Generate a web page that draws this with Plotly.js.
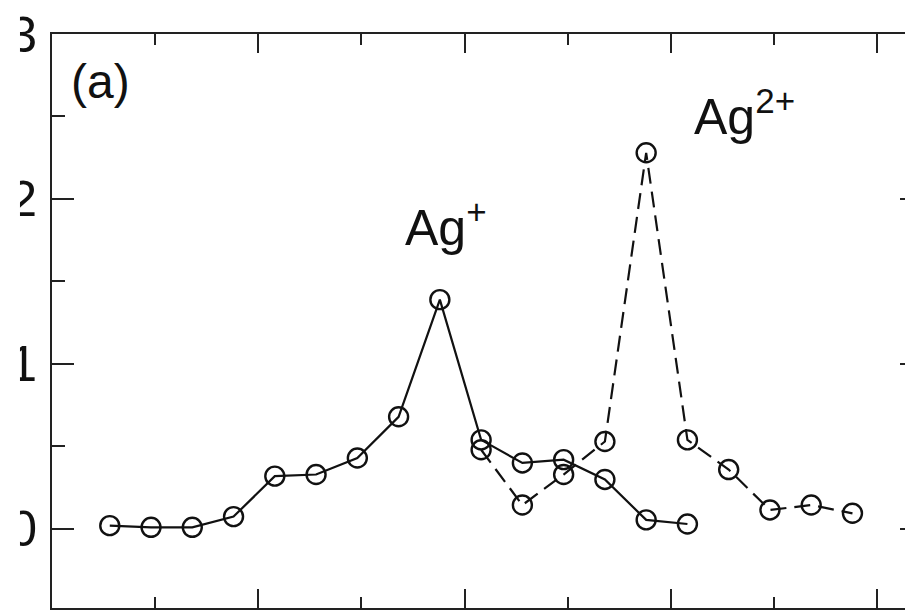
<!DOCTYPE html>
<html>
<head>
<meta charset="utf-8">
<script src="https://cdn.plot.ly/plotly-3.0.1.min.js"></script>
<style>
html,body{margin:0;padding:0;overflow:hidden;background:#fff;width:905px;height:610px;}
#chart{width:925px;height:610px;}
</style>
</head>
<body>
<div id="chart"></div>
<script>
// Ag+ series (solid)
const agPlusX = [0.28,0.48,0.68,0.88,1.08,1.28,1.48,1.68,1.88,2.08,2.28,2.48,2.68,2.88,3.08];
const agPlusY = [0.02,0.01,0.01,0.075,0.32,0.33,0.43,0.68,1.39,0.54,0.40,0.42,0.30,0.055,0.03];
// Ag2+ series (dashed)
const ag2PlusX = [2.08,2.28,2.48,2.68,2.88,3.08,3.28,3.48,3.68,3.88];
const ag2PlusY = [0.48,0.145,0.33,0.53,2.28,0.54,0.36,0.115,0.145,0.095];
// axis ticks
const yTickVals = [0,1,2,3];
const yTickText = ["0","1","2","3"];
// labels
const panelLabel = "(a)";
const labelAgPlus = "Ag<sup>+</sup>";
const labelAg2Plus = "Ag<sup>2+</sup>";

const FONT = "Liberation Sans, Arial, sans-serif";

const markerStyle = {symbol:"circle-open", size:19, color:"#111", line:{width:2.4, color:"#111"}};

const traces = [
  {x: ag2PlusX, y: ag2PlusY, mode:"lines+markers", type:"scatter",
   line:{color:"#111", width:2.2, dash:"16px,8px"}, marker: markerStyle, showlegend:false},
  {x: agPlusX, y: agPlusY, mode:"lines+markers", type:"scatter",
   line:{color:"#111", width:2.2}, marker: markerStyle, showlegend:false}
];

const layout = {
  width: 925, height: 610,
  margin: {l:52, r:3, t:34, b:2, pad:0},
  paper_bgcolor:"#fff", plot_bgcolor:"#fff",
  showlegend:false,
  font:{family:FONT, color:"#111", size:50},
  xaxis:{
    range:[0, 4.217], showgrid:false, zeroline:false,
    showline:true, linecolor:"#222", linewidth:2, mirror:"ticks",
    ticks:"inside", ticklen:19, tickwidth:2, tickcolor:"#222",
    tick0:0, dtick:1, showticklabels:false,
    minor:{ticks:"inside", ticklen:11, tickwidth:2, tickcolor:"#222", dtick:0.5, tick0:0, showgrid:false}
  },
  yaxis:{
    range:[-0.479, 3.0], showgrid:false, zeroline:false,
    showline:true, linecolor:"#222", linewidth:2, mirror:"ticks",
    ticks:"inside", ticklen:22, tickwidth:2, tickcolor:"#222",
    tickmode:"array", tickvals:yTickVals, ticktext:yTickText,
    tickfont:{family:FONT, size:50, color:"#111"},
    ticklabelstandoff:3,
    minor:{ticks:"inside", ticklen:13, tickwidth:2, tickcolor:"#222", dtick:0.5, tick0:0, showgrid:false}
  },
  annotations:[
    {text:panelLabel, xref:"x", yref:"y", x:0.080, y:2.71, xanchor:"left", yanchor:"middle",
     showarrow:false, font:{family:FONT, size:48, color:"#111"}},
    {text:labelAgPlus, xref:"x", yref:"y", x:1.70, y:1.85, xanchor:"left", yanchor:"middle",
     showarrow:false, font:{family:FONT, size:50, color:"#111"}},
    {text:labelAg2Plus, xref:"x", yref:"y", x:3.10, y:2.52, xanchor:"left", yanchor:"middle",
     showarrow:false, font:{family:FONT, size:50, color:"#111"}}
  ],
  shapes:[
    {type:"rect", xref:"paper", yref:"paper", x0:-0.07, x1:-0.0368, y0:-0.1, y1:1.1,
     fillcolor:"#fff", line:{width:0}, layer:"above"}
  ]
};

Plotly.newPlot("chart", traces, layout, {displayModeBar:false, staticPlot:true});
</script>
</body>
</html>
